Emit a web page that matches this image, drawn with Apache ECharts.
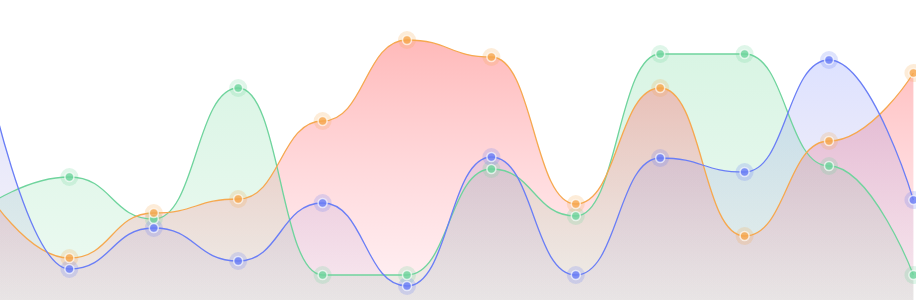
<!DOCTYPE html>
<html>
<head>
<meta charset="utf-8">
<script src="https://cdn.jsdelivr.net/npm/echarts@6/dist/echarts.min.js"></script>
<style>
html,body{margin:0;padding:0;background:#fff;overflow:hidden;width:916px;height:300px;position:relative;}
#c{position:absolute;left:-15px;top:0;width:931px;height:300px;}
</style>
</head>
<body>
<div id="c"></div>
<script>
const categories = ['1','2','3','4','5','6','7','8','9','10','11','12'];
const orangeValues = [111, 42, 87, 101, 179, 260, 243, 96, 212, 64, 159, 227];
const greenValues  = [93, 123, 81, 212, 25, 25, 131, 84, 246, 246, 134, 25];
const blueValues   = [235, 31, 72, 39, 97, 14, 143, 25, 142, 128, 240, 100];

const palette = {
  orange: { line: '#f6a84f', top: 'rgba(255,95,95,0.62)', bottom: 'rgba(255,140,160,0.17)' },
  green:  { line: '#6fd49d', top: 'rgba(100,212,145,0.35)', bottom: 'rgba(110,214,150,0.18)' },
  blue:   { line: '#6a7ef6', top: 'rgba(105,125,255,0.32)', bottom: 'rgba(150,120,190,0.10)' }
};

function grad(c) {
  return new echarts.graphic.LinearGradient(0, 0, 0, 1, [
    { offset: 0, color: c.top },
    { offset: 1, color: c.bottom }
  ]);
}

const seriesDefs = [
  { name: 'green', data: greenValues, c: palette.green },
  { name: 'orange', data: orangeValues, c: palette.orange },
  { name: 'blue', data: blueValues, c: palette.blue }
];

const series = [];
seriesDefs.forEach(s => {
  series.push({
    type: 'line', name: s.name, data: s.data, smooth: 0.5, smoothMonotone: 'x',
    showSymbol: false, silent: true, z: 2,
    lineStyle: { color: s.c.line, width: 1.3 },
    areaStyle: { color: grad(s.c), origin: 'start' }
  });
});
seriesDefs.forEach(s => {
  series.push({
    type: 'scatter', data: s.data, symbolSize: 18, silent: true, z: 3,
    itemStyle: { color: s.c.line, opacity: 0.22 }
  });
});
seriesDefs.forEach(s => {
  series.push({
    type: 'scatter', data: s.data, symbolSize: 9, silent: true, z: 4,
    itemStyle: { color: s.c.line, borderColor: 'rgba(255,255,255,0.85)', borderWidth: 1.5 }
  });
});

const chart = echarts.init(document.getElementById('c'), null, { renderer: 'canvas' });
chart.setOption({
  animation: false,
  backgroundColor: '#fff',
  grid: { left: 0, right: 2.6, top: 0, bottom: 0, containLabel: false },
  xAxis: { type: 'category', data: categories, boundaryGap: false, show: false },
  yAxis: { type: 'value', min: 0, max: 300, show: false },
  series: series
});
</script>
</body>
</html>
